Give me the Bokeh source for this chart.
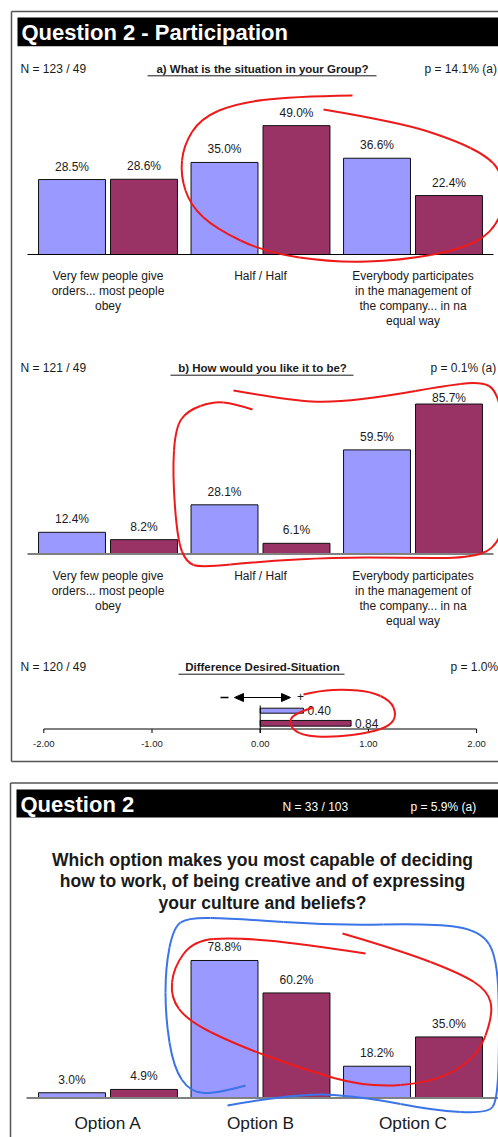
import numpy as np
from bokeh.plotting import figure
from bokeh.models import Range1d
from bokeh.embed import file_html
from bokeh.resources import INLINE
from bokeh.core.properties import value

W, H = 498, 1137
FONT = "Liberation Sans"
BLUE = "#9999FF"
PURPLE = "#993366"
INK = "#1a1a1a"

# ---- data -------------------------------------------------------------
participation_cats = [
    "Very few people give\norders... most people\nobey",
    "Half / Half",
    "Everybody participates\nin the management of\nthe company... in na\nequal way",
]
situation_group = [28.5, 35.0, 36.6]
situation_other = [28.6, 49.0, 22.4]
desired_group = [12.4, 28.1, 59.5]
desired_other = [8.2, 6.1, 85.7]

diff_values = [0.40, 0.84]
diff_ticks = [-2.0, -1.0, 0.0, 1.0, 2.0]

option_cats = ["Option A", "Option B", "Option C"]
option_group = [3.0, 78.8, 18.2]
option_other = [4.9, 60.2, 35.0]

header_1 = "Question 2 - Participation"
sub_a = ("N = 123 / 49", "a) What is the situation in your Group?", "p = 14.1% (a)")
sub_b = ("N = 121 / 49", "b) How would you like it to be?", "p = 0.1% (a)")
sub_d = ("N = 120 / 49", "Difference Desired-Situation", "p = 1.0%")
header_2 = ("Question 2", "N = 33 / 103", "p = 5.9% (a)")
question_2 = ["Which option makes you most capable of deciding",
              "how to work, of being creative and of expressing",
              "your culture and beliefs?"]

# ---- canvas (pixel-based layout range + one value range per chart) ----
p = figure(width=W, height=H, x_range=Range1d(0, W), y_range=Range1d(H, 0),
           output_backend="svg", toolbar_location=None, min_border=0,
           x_axis_location=None, y_axis_location=None)
p.grid.visible = False
p.outline_line_color = None
p.background_fill_color = "white"
p.border_fill_color = "white"


def value_range(base_px, px_per_unit):
    return Range1d((base_px - H) / px_per_unit, base_px / px_per_unit)


GRP_C0, GRP_STEP = 107.5, 152.5
p.extra_x_ranges = {
    "grp": Range1d(-GRP_C0 / GRP_STEP, (W - GRP_C0) / GRP_STEP),
    "diff": Range1d(-259.7 / 108.2, (W - 259.7) / 108.2),
}
p.extra_y_ranges = {
    "a": value_range(254.0, 2.63),
    "b": value_range(553.5, 1.75),
    "c": value_range(1097.5, 1.745),
}

DODGE, BAR_W = 0.236, 0.439
idx = np.arange(3)


def txt(x, y, s, size="12px", color=INK, align="left", bold=False, **kw):
    p.text(x=x, y=y, text=s, text_font=value(FONT), text_font_size=size,
           text_color=color, text_align=align, text_baseline="middle",
           text_font_style="bold" if bold else "normal", **kw)


def bar_chart(yname, blue_vals, purple_vals, top_px=None):
    for off, vals, col in ((-DODGE, blue_vals, BLUE), (DODGE, purple_vals, PURPLE)):
        p.vbar(x=idx + off, top=vals, bottom=0, width=BAR_W, fill_color=col,
               line_color="#111111", line_width=1,
               x_range_name="grp", y_range_name=yname)
        # value labels sit 13px above the bar, but never above the chart's top edge
        rng = p.extra_y_ranges[yname]
        px_per = H / (rng.end - rng.start)
        offs = []
        for v in vals:
            o = -13.0
            if top_px is not None:
                bar_top = (rng.end - v) * px_per
                o = -min(13.0, bar_top - top_px)
            offs.append(o)
        txt(list(idx + off), vals, [f"{v:.1f}%" for v in vals], align="center",
            x_range_name="grp", y_range_name=yname, y_offset=offs)


def cat_labels(cats, y_first, step=15.0, size="12px"):
    xs, ys, ts = [], [], []
    for i, c in enumerate(cats):
        for k, line in enumerate(c.split("\n")):
            xs.append(i)
            ys.append(y_first + step * k)
            ts.append(line)
    txt(xs, ys, ts, size=size, align="center", x_range_name="grp")


def subtitle(y, parts, ul_x0, ul_x1, p_x):
    txt([20], [y], [parts[0]])
    txt([262], [y], [parts[1]], size="11.5px", bold=True, align="center")
    p.segment(x0=[ul_x0], x1=[ul_x1], y0=[y + 7], y1=[y + 7], line_color=INK, line_width=1)
    txt([p_x], [y], [parts[2]])


# ---- panel frames and header bars ------------------------------------
p.segment(x0=[11, 11, 11, 10, 10], x1=[W, 11, W, W, 10],
          y0=[11, 11, 761, 782.5, 782.5], y1=[11, 761, 761, 782.5, H],
          line_color="#555555", line_width=1.5)
p.quad(left=[17, 16], right=[W, W], top=[17, 789], bottom=[45.7, 817],
       fill_color="black", line_color=None)
txt([21], [31.5], [header_1], size="22px", color="white", bold=True)
txt([20], [804], [header_2[0]], size="22px", color="white", bold=True)
txt([282], [806.5], [header_2[1]], color="white")
txt([410], [806.5], [header_2[2]], color="white")

# ---- a) current situation --------------------------------------------
subtitle(68.3, sub_a, 147, 376, 424)
bar_chart("a", situation_group, situation_other)
p.segment(x0=[27], x1=[493], y0=[0], y1=[0], y_range_name="a",
          line_color="black", line_width=1.2)
cat_labels(participation_cats, 275.7)

# ---- b) desired situation --------------------------------------------
subtitle(367.7, sub_b, 170, 353, 430)
bar_chart("b", desired_group, desired_other, top_px=397)
p.segment(x0=[27], x1=[493], y0=[0], y1=[0], y_range_name="b",
          line_color="#808080", line_width=2)
cat_labels(participation_cats, 575.7)

# ---- difference desired - situation -----------------------------------
subtitle(666.7, sub_d, 178, 344, 450)
p.hbar(y=[710.2, 722.8], left=0, right=diff_values, height=[5, 5.7],
       fill_color=[BLUE, PURPLE], line_color="#111111", line_width=1,
       x_range_name="diff")
txt(diff_values, [710.2, 722.8], [f"{v:.2f}" for v in diff_values],
    x_range_name="diff", x_offset=4)
p.segment(x0=[min(diff_ticks)], x1=[max(diff_ticks)], y0=[728.5], y1=[728.5],
          x_range_name="diff", line_color="black", line_width=1)
p.segment(x0=diff_ticks, x1=diff_ticks, y0=728.5, y1=732.5,
          x_range_name="diff", line_color="black", line_width=1)
p.segment(x0=[0], x1=[0], y0=[705], y1=[732.5], x_range_name="diff",
          line_color="black", line_width=1)
txt(diff_ticks, [743.3] * 5, [f"{t:.2f}" for t in diff_ticks], size="9.5px",
    align="center", x_range_name="diff")
# direction hint: minus <----> plus
p.segment(x0=[242], x1=[282], y0=[697], y1=[697], line_color="black", line_width=1)
p.patches(xs=[[234, 243, 243], [290, 281, 281]], ys=[[697, 693, 701], [697, 693, 701]],
          fill_color="black", line_color="black")
p.segment(x0=[220], x1=[228], y0=[697], y1=[697], line_color="black", line_width=1.3)
txt([300], [696], ["+"], align="center")

# ---- Question 2 options -----------------------------------------------
for k, line in enumerate(question_2):
    txt([262], [859 + 21.7 * k], [line], size="17.5px", bold=True, align="center")
bar_chart("c", option_group, option_other)
p.segment(x0=[26], x1=[W], y0=[0], y1=[0], y_range_name="c",
          line_color="#808080", line_width=2)
cat_labels(option_cats, 1122.7, size="17.3px")

# ---- hand-drawn highlight strokes ---------------------------------------
def stroke(pts, color):
    pts = np.asarray(pts, dtype=float)
    mids = (pts[:-1] + pts[1:]) / 2
    starts = np.vstack([pts[:1], mids[1:-1]])
    ends = np.vstack([mids[1:-1], pts[-1:]])
    ctrl = pts[1:-1]
    p.quadratic(x0=starts[:, 0], y0=starts[:, 1], x1=ends[:, 0], y1=ends[:, 1],
                cx=ctrl[:, 0], cy=ctrl[:, 1], line_color=color, line_width=2)


RED, PEN_BLUE = "#EE1A1A", "#3A74E6"
stroke([(352, 95), (290, 96), (235, 103), (200, 118), (183, 145), (180, 175),
        (190, 205), (215, 228), (265, 252), (333, 262), (400, 260), (460, 249),
        (492, 232), (506, 200), (500, 170), (485, 155), (455, 140), (400, 122),
        (323, 109)], RED)
stroke([(233, 390), (290, 400), (333, 402), (390, 395), (440, 386), (480, 381),
        (497, 390), (506, 440), (506, 510), (497, 547), (467, 558), (400, 557),
        (333, 557), (260, 561), (200, 567), (186, 562), (177, 540), (172, 473),
        (175, 427), (187, 410), (213, 401), (233, 403), (252, 409)], RED)
stroke([(303, 694), (320, 690), (345, 689), (370, 691), (390, 700), (396, 714),
        (390, 725), (370, 732), (333, 737), (300, 735), (288, 724), (293, 713),
        (313, 707)], RED)
stroke([(365, 953), (300, 943), (233, 937), (193, 940), (173, 967), (170, 997),
        (187, 1020), (233, 1043), (300, 1068), (367, 1087), (433, 1082),
        (477, 1057), (493, 1013), (487, 990), (460, 973), (400, 950), (342, 933)], RED)
stroke([(245, 1085), (217, 1093), (190, 1092), (173, 1067), (165, 1017),
        (165, 967), (173, 927), (187, 917), (233, 918), (333, 925), (433, 923),
        (480, 930), (497, 957), (499, 1033), (497, 1100), (487, 1113),
        (433, 1110), (367, 1097), (300, 1092), (227, 1105)], PEN_BLUE)

open("out.html", "w").write(file_html(p, INLINE))
